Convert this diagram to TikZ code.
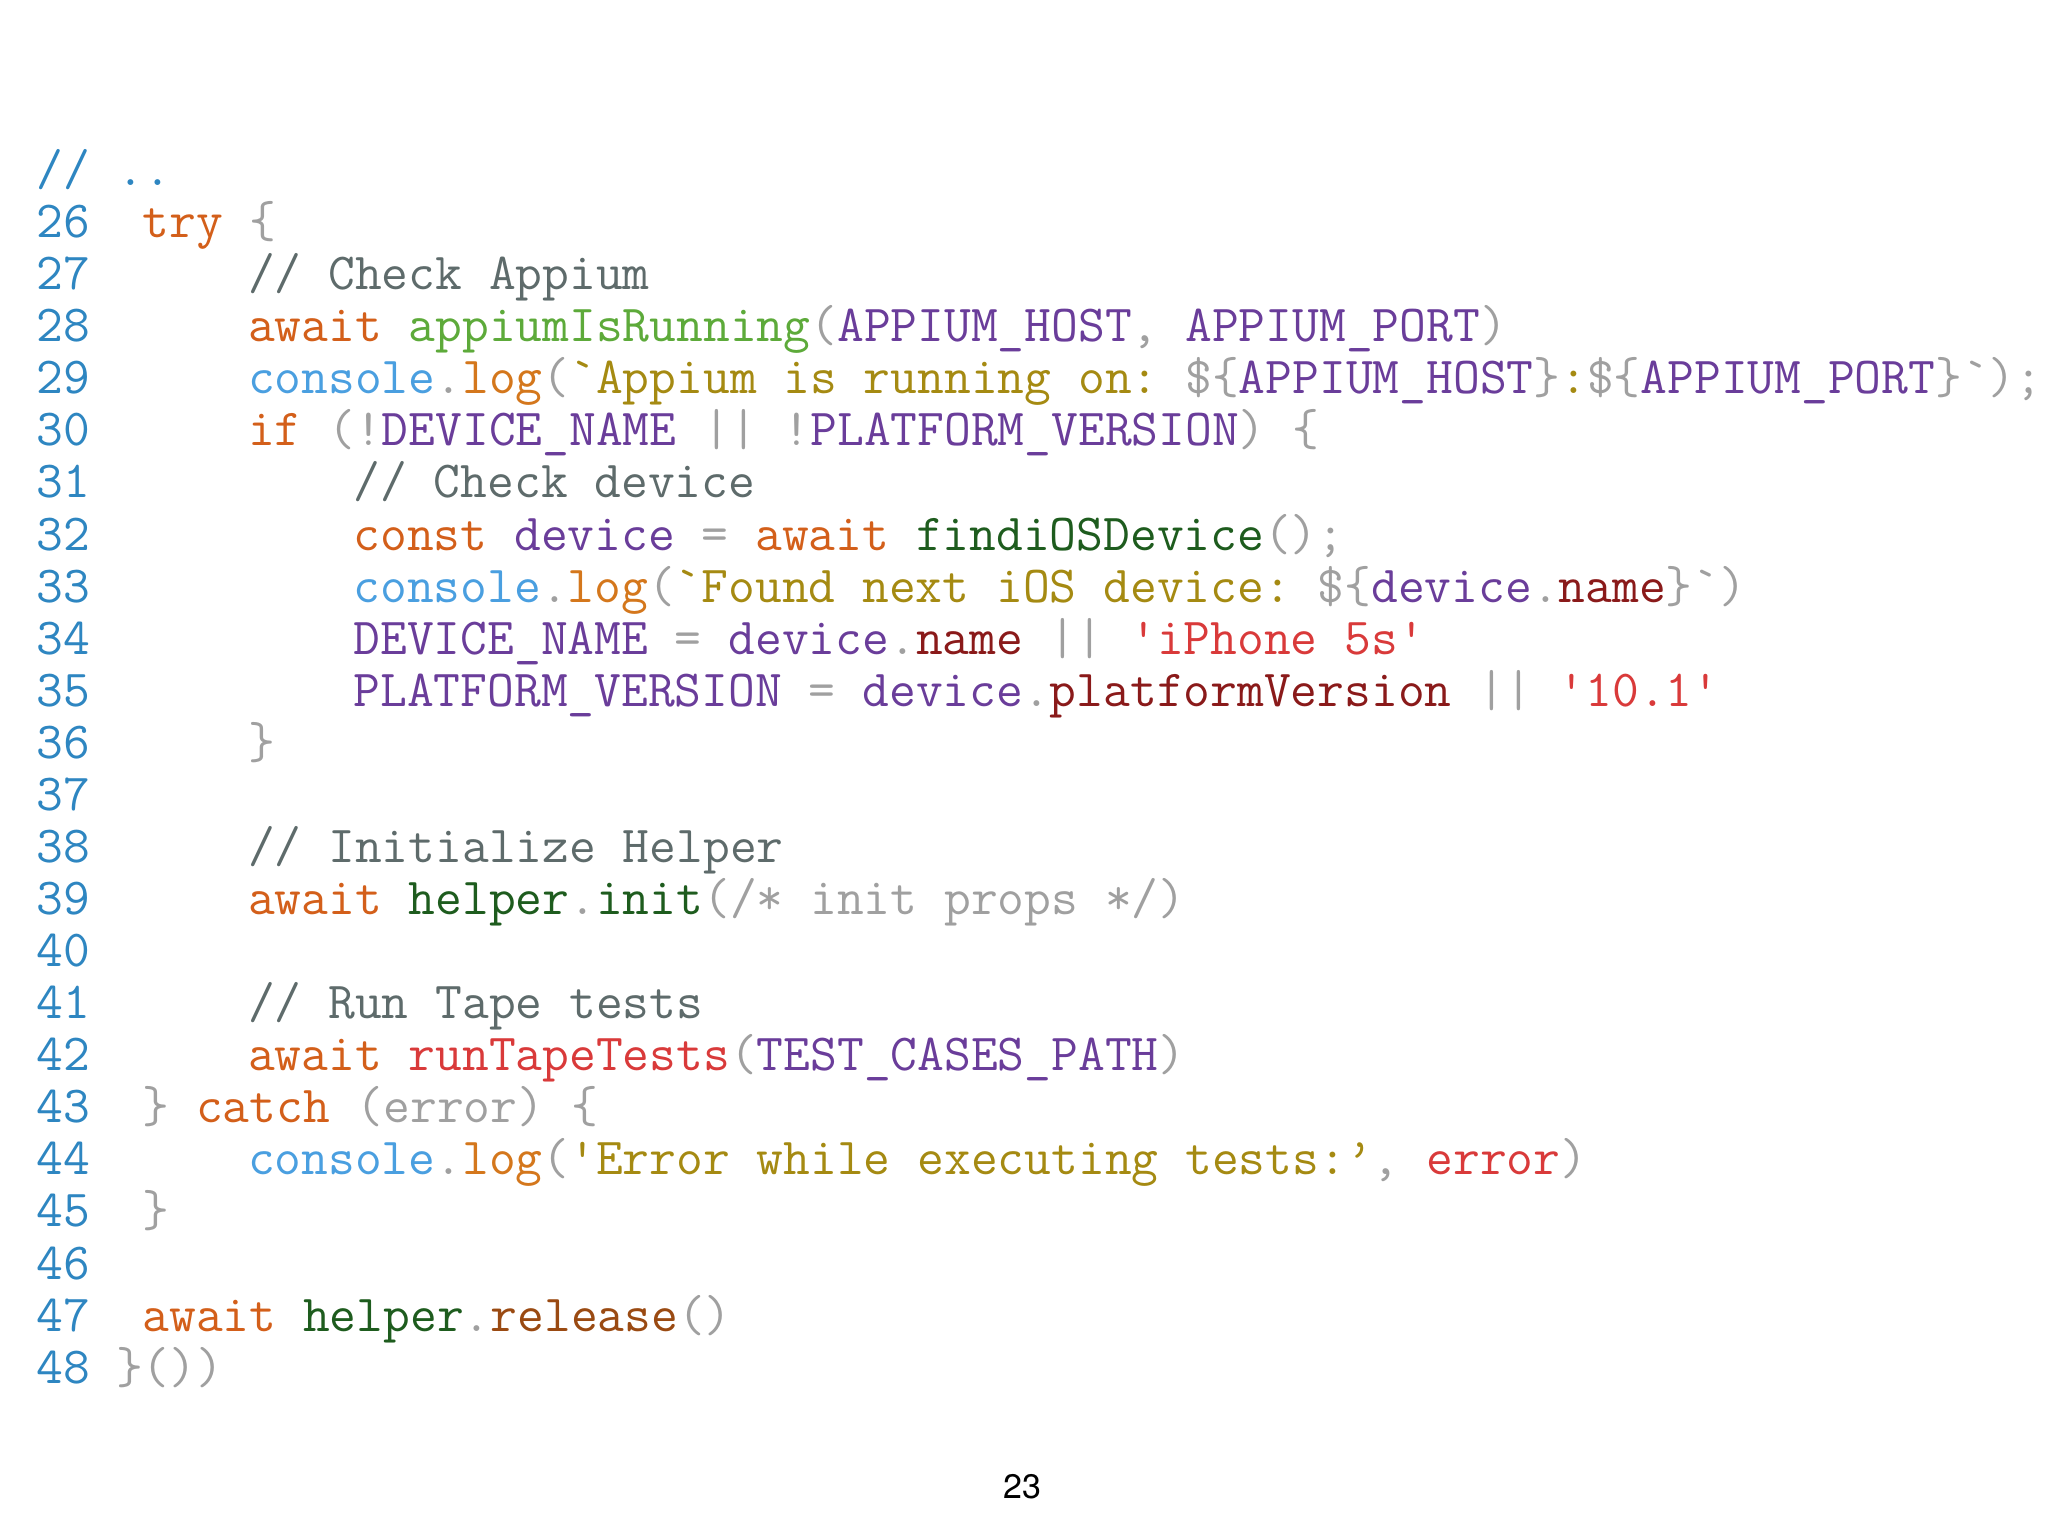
\documentclass[tikz,border=0pt]{standalone}
\usepackage{fontspec}
\setmonofont{Latin Modern Mono}
\newfontfamily\pagefont{TeX Gyre Heros}
\definecolor{ln}{HTML}{2E86C1}
\definecolor{kw}{HTML}{D35F1A}
\definecolor{fn}{HTML}{5DAA3A}
\definecolor{dg}{HTML}{1E5C1E}
\definecolor{rl}{HTML}{9A4A12}
\definecolor{cn}{HTML}{6A3D9A}
\definecolor{cs}{HTML}{4A9FE0}
\definecolor{lg}{HTML}{D4771C}
\definecolor{st}{HTML}{A58A12}
\definecolor{pu}{HTML}{A0A0A0}
\definecolor{cm}{HTML}{5E6B6B}
\definecolor{rs}{HTML}{D93A3A}
\definecolor{dr}{HTML}{8A1A1A}
\newcommand\cK[1]{\textcolor{kw}{#1}}
\newcommand\cF[1]{\textcolor{fn}{#1}}
\newcommand\cG[1]{\textcolor{dg}{#1}}
\newcommand\cC[1]{\textcolor{cn}{#1}}
\newcommand\cS[1]{\textcolor{st}{#1}}
\newcommand\cP[1]{\textcolor{pu}{#1}}
\newcommand\cM[1]{\textcolor{cm}{#1}}
\newcommand\cR[1]{\textcolor{rs}{#1}}
\newcommand\cD[1]{\textcolor{dr}{#1}}
\newcommand\cCL{\textcolor{cs}{console}\cP{.}\textcolor{lg}{log}}
\newcommand\cbq{\char96\relax}
\newcommand\csq{\char39\relax}
\tikzset{codeline/.style={anchor=base west,inner sep=0pt,font=\ttfamily\fontsize{26}{30}\selectfont}}
\begin{document}
\begin{tikzpicture}[x=0.653pt,y=-0.653pt]
\useasboundingbox (0,0) rectangle (1568,1176);
\def\cw{20.2}
\def\lh{39.87}
\newcommand\Lc[3]{\node[codeline] (l#1c#2) at ({28+#2*\cw},{142+#1*\lh}) {#3};}
\Lc{0}{0}{\textcolor{ln}{// ..}}
\foreach \n [count=\i] in {26,...,48} {\node[codeline,text=ln] (n\n) at (28,{142+\i*\lh}) {\n};}
\Lc{1}{4}{\cK{try} \cP{\{}}
\Lc{2}{8}{\cM{// Check Appium}}
\Lc{3}{8}{\cK{await} \cF{appiumIsRunning}\cP{(}\cC{APPIUM\_HOST}\cP{,} \cC{APPIUM\_PORT}\cP{)}}
\Lc{4}{8}{\cCL\cP{(}\cS{\cbq Appium is running on:} \cP{\$\{}\cC{APPIUM\_HOST}\cP{\}}\cS{:}\cP{\$\{}\cC{APPIUM\_PORT}\cP{\}\cbq);}}
\Lc{5}{8}{\cK{if} \cP{(!}\cC{DEVICE\_NAME} \cP{||} \cP{!}\cC{PLATFORM\_VERSION}\cP{)} \cP{\{}}
\Lc{6}{12}{\cM{// Check device}}
\Lc{7}{12}{\cK{const} \cC{device} \cP{=} \cK{await} \cG{findiOSDevice}\cP{();}}
\Lc{8}{12}{\cCL\cP{(}\cS{\cbq Found next iOS device:} \cP{\$\{}\cC{device}\cP{.}\cD{name}\cP{\}\cbq)}}
\Lc{9}{12}{\cC{DEVICE\_NAME} \cP{=} \cC{device}\cP{.}\cD{name} \cP{||} \cR{\csq iPhone 5s\csq}}
\Lc{10}{12}{\cC{PLATFORM\_VERSION} \cP{=} \cC{device}\cP{.}\cD{platformVersion} \cP{||} \cR{\csq 10.1\csq}}
\Lc{11}{8}{\cP{\}}}
\Lc{13}{8}{\cM{// Initialize Helper}}
\Lc{14}{8}{\cK{await} \cG{helper}\cP{.}\cG{init}\cP{(/* init props */)}}
\Lc{16}{8}{\cM{// Run Tape tests}}
\Lc{17}{8}{\cK{await} \cR{runTapeTests}\cP{(}\cC{TEST\_CASES\_PATH}\cP{)}}
\Lc{18}{4}{\cP{\}} \cK{catch} \cP{(error)} \cP{\{}}
\Lc{19}{8}{\cCL\cP{(}\cS{\csq Error while executing tests:’}\cP{,} \cR{error}\cP{)}}
\Lc{20}{4}{\cP{\}}}
\Lc{22}{4}{\cK{await} \cG{helper}\cP{.}\textcolor{rl}{release}\cP{()}}
\Lc{23}{3}{\cP{\}())}}
\node[font=\pagefont\fontsize{17}{20}\selectfont] (page) at (783,1138) {23};
\end{tikzpicture}
\end{document}
